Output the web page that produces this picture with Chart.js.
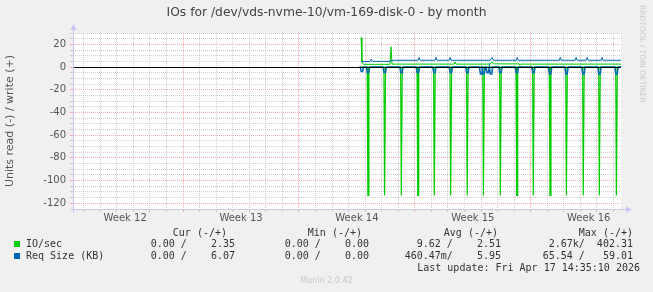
<!DOCTYPE html>
<html>
<head>
<meta charset="utf-8">
<title>IOs for /dev/vds-nvme-10/vm-169-disk-0 - by month</title>
<script src="https://cdn.jsdelivr.net/npm/chart.js@4.4.1/dist/chart.umd.min.js"></script>
<style>
  body { margin: 0; background: #f0f0f0; }
  #wrap { position: relative; width: 653px; height: 292px; overflow: hidden; }
  #wrap div { position: absolute; white-space: pre; }
  .sans { font-family: 'DejaVu Sans', sans-serif; }
  .mono { font-family: 'DejaVu Sans Mono', monospace; font-size: 10px; line-height: 12px; color: #333; }
  .box { width: 6px; height: 6px; }
</style>
</head>
<body>
<div id="wrap">
  <canvas id="myChart" width="653" height="292"></canvas>
  <div class="sans" style="left:0;width:653px;top:5px;text-align:center;font-size:12.3px;color:#444">IOs for /dev/vds-nvme-10/vm-169-disk-0 - by month</div>
  <div class="sans" style="left:647px;top:5px;font-size:7.6px;color:#c8c8c8;transform-origin:0 0;transform:rotate(90deg)">RRDTOOL / TOBI OETIKER</div>

  <div class="mono" style="top:227px;right:426px">Cur (-/+)</div>
  <div class="mono" style="top:227px;right:291px">Min (-/+)</div>
  <div class="mono" style="top:227px;right:155px">Avg (-/+)</div>
  <div class="mono" style="top:227px;right:20px">Max (-/+)</div>

  <div class="box" style="left:14px;top:241px;background:#00cc00"></div>
  <div class="mono" style="top:238px;left:26px">IO/sec</div>
  <div class="mono" style="top:238px;right:418px">0.00 /    2.35</div>
  <div class="mono" style="top:238px;right:284px">0.00 /    0.00</div>
  <div class="mono" style="top:238px;right:152px">9.62 /    2.51</div>
  <div class="mono" style="top:238px;right:20px">2.67k/  402.31</div>

  <div class="box" style="left:14px;top:253px;background:#0066b3"></div>
  <div class="mono" style="top:250px;left:26px">Req Size (KB)</div>
  <div class="mono" style="top:250px;right:418px">0.00 /    6.07</div>
  <div class="mono" style="top:250px;right:284px">0.00 /    0.00</div>
  <div class="mono" style="top:250px;right:152px">460.47m/    5.95</div>
  <div class="mono" style="top:250px;right:20px">65.54 /   59.01</div>

  <div class="mono" style="top:262px;right:13px">Last update: Fri Apr 17 14:35:10 2026</div>
  <div class="sans" style="left:0;width:653px;top:276px;text-align:center;font-size:8px;color:#c8c8c8">Munin 2.0.42</div>
</div>
<script>
// x values are days on the month axis (daily grid lines at whole numbers)
var weekLabels = ['Week 12', 'Week 13', 'Week 14', 'Week 15', 'Week 16'];
var weekCenters = [2.5, 9.5, 16.5, 23.5, 30.5];
var weekBounds = [6, 13, 20, 27];

// IO/sec read (-): daily spikes
var spikeDays = [17.17, 18.18, 19.19, 20.18, 21.18, 22.17, 23.17, 24.15, 25.17, 26.16, 27.16, 28.17, 29.16, 30.18, 31.15, 32.18];
var ioReadSpike = [-113, -113, -113, -113, -113, -113, -113, -113, -113, -113, -113, -113, -113, -113, -113, -113];

// IO/sec write (+)
var ioWriteDays = [16.75, 16.8, 16.9, 18.5, 18.56, 18.62, 22.37, 22.43, 22.49, 24.55, 24.65, 24.75, 26.3, 26.36, 26.42, 28.75, 32.45];
var ioWrite     = [26,    5,    2.4,  2.4,  18,    2.6,   2.6,   4.5,   2.6,   2.6,   4.5,   2.8,   2.8,   1.5,   2.6,   2.6,   2.6];

// Req Size (KB) read (-)
var reqReadDays = [16.8, 17.17, 18.18, 19.19, 20.18, 21.18, 22.17, 23.17, 24.0, 24.15, 24.4, 24.6, 25.17, 26.16, 27.16, 28.17, 29.16, 30.18, 31.15, 32.18];
var reqRead     = [-4,   -5,    -5,    -5,    -5,    -5,    -5,    -5,    -6,   -6,    -5,   -6,   -5,    -5,    -5,    -6,    -6,    -6,    -6,    -6];

// Req Size (KB) write (+)
var reqWriteDays = [16.75, 17.3, 17.36, 17.45, 18.5, 18.56, 20.2, 20.26, 20.32, 21.22, 21.28, 21.34, 22.07, 22.13, 22.19, 24.55, 24.65, 24.75, 26.12, 26.18, 26.24, 28.72, 28.78, 28.84, 29.68, 29.74, 29.8, 30.35, 30.41, 30.47, 31.25, 31.31, 31.37, 32.45];
var reqWrite     = [4.8,   4.8,  7,     5,     5,    6,     6,    8.5,   6,     6,     8.5,   6,     6,     8.5,   6,     6,     8.5,   6,     6,     8.5,   6,     6,     8.5,   6,     6,     8.5,   6,    6,     8.5,   6,     6,     8.5,   6,     6];

var xMin = -0.65, xMax = 32.45;

function pairs(days, vals) {
  return days.map(function (d, i) { return {x: d, y: vals[i]}; });
}
function dips(days, vals, w, flat) {
  var pts = [{x: 16.75, y: 0}];
  days.forEach(function (d, i) {
    pts.push({x: d - w, y: 0});
    pts.push({x: d - flat, y: vals[i]});
    if (flat > 0) pts.push({x: d + flat, y: vals[i]});
    pts.push({x: d + w, y: 0});
  });
  pts.push({x: xMax, y: 0});
  return pts;
}

var gridTicks = [];
for (var k = 0; k <= 32; k++) gridTicks.push(k);

var minorGrid = 'rgba(190,190,190,0.75)';
var majorGrid = 'rgba(245,150,150,0.8)';

var frame = {
  id: 'frame',
  beforeDraw: function (chart) {
    var a = chart.chartArea, c = chart.ctx;
    c.save();
    c.fillStyle = '#ffffff';
    c.fillRect(a.left, a.top, a.right - a.left, a.bottom - a.top);
    c.restore();
  },
  afterDatasetsDraw: function (chart) {
    var a = chart.chartArea, c = chart.ctx;
    var y0 = Math.round(chart.scales.y.getPixelForValue(0)) + 0.5;
    c.save();
    c.strokeStyle = '#000';
    c.lineWidth = 1;
    c.beginPath();
    c.moveTo(a.left, y0);
    c.lineTo(a.right, y0);
    c.stroke();
    c.restore();
  },
  afterDraw: function (chart) {
    var a = chart.chartArea, c = chart.ctx;
    var l = Math.round(a.left) + 0.5, b = Math.round(a.bottom) + 0.5;
    c.save();
    c.strokeStyle = '#c8c8f8';
    c.fillStyle = '#c8c8f8';
    c.lineWidth = 1;
    c.beginPath();
    c.moveTo(l, b + 3); c.lineTo(l, a.top - 4);
    c.moveTo(l - 3, b); c.lineTo(a.right + 5, b);
    c.stroke();
    c.beginPath();
    c.moveTo(l - 3, a.top - 3); c.lineTo(l + 3, a.top - 3); c.lineTo(l, a.top - 9); c.closePath();
    c.fill();
    c.beginPath();
    c.moveTo(a.right + 5, b - 3); c.lineTo(a.right + 5, b + 3); c.lineTo(a.right + 11, b); c.closePath();
    c.fill();
    c.restore();
  }
};

var ctx = document.getElementById('myChart').getContext('2d');
var myChart = new Chart(ctx, {
  type: 'line',
  data: {
    datasets: [
      { label: 'Req Size (KB) write', data: pairs(reqWriteDays, reqWrite), borderColor: '#0066b3' },
      { label: 'Req Size (KB) read', data: dips(reqReadDays, reqRead, 0.1, 0.04), borderColor: '#0066b3', borderWidth: 1.5 },
      { label: 'IO/sec write', data: pairs(ioWriteDays, ioWrite), borderColor: '#00cc00' },
      { label: 'IO/sec read', data: dips(spikeDays, ioReadSpike, 0.05, 0.01), borderColor: '#00cc00', borderWidth: 1.2 }
    ]
  },
  options: {
    responsive: false,
    animation: false,
    elements: { line: { borderWidth: 1, tension: 0 }, point: { radius: 0 } },
    layout: { padding: { left: 0, top: 33, right: 32, bottom: 58 } },
    plugins: { legend: { display: false }, tooltip: { enabled: false } },
    scales: {
      x: {
        type: 'linear', min: xMin, max: xMax,
        afterBuildTicks: function (s) {
          s.ticks = gridTicks.concat(weekCenters).map(function (v) { return {value: v}; });
        },
        afterFit: function (s) { s.height = 25; },
        ticks: {
          autoSkip: false, maxRotation: 0, padding: 0, color: '#555',
          font: { family: 'DejaVu Sans', size: 10 },
          callback: function (v) {
            var i = weekCenters.indexOf(v);
            return i >= 0 ? weekLabels[i] : '';
          }
        },
        grid: {
          tickLength: 3,
          color: function (c) {
            var v = c.tick ? c.tick.value : 0;
            if (v !== Math.round(v)) return 'rgba(0,0,0,0)';
            return weekBounds.indexOf(v) >= 0 ? majorGrid : minorGrid;
          }
        },
        border: { display: false, dash: [1, 1] }
      },
      y: {
        min: -125, max: 30,
        afterFit: function (s) { s.width = 73; },
        ticks: {
          stepSize: 5, autoSkip: false, padding: 4, color: '#555',
          font: { family: 'DejaVu Sans', size: 10 },
          callback: function (v) { return v % 20 === 0 ? v : ''; }
        },
        grid: {
          tickLength: 3,
          color: function (c) {
            var v = c.tick ? c.tick.value : 1;
            return v % 20 === 0 ? majorGrid : minorGrid;
          }
        },
        border: { display: false, dash: [1, 1] },
        title: {
          display: true, text: 'Units read (-) / write (+)', color: '#555',
          font: { family: 'DejaVu Sans', size: 11 }, padding: { top: 4, bottom: 0 }
        }
      }
    }
  },
  plugins: [frame]
});
</script>
</body>
</html>
